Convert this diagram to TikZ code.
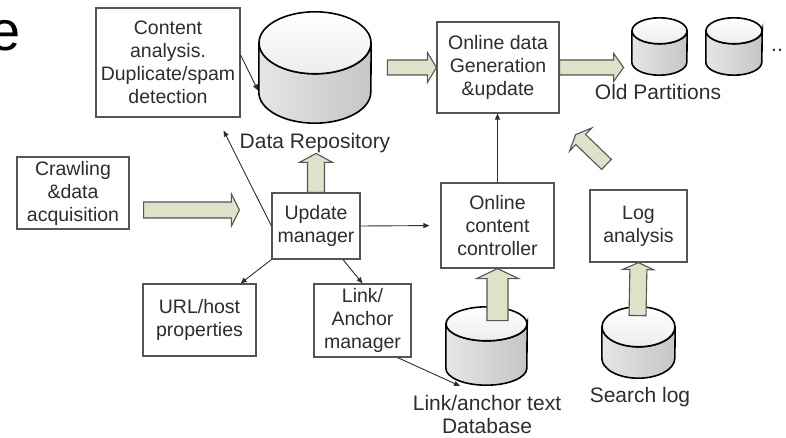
\documentclass[tikz,border=0pt]{standalone}
\usepackage{fontspec}
\setmainfont{Liberation Sans}
\usetikzlibrary{calc,arrows.meta}

\definecolor{fatfill}{RGB}{221,226,201}
\definecolor{edgegray}{RGB}{85,85,85}
\definecolor{inkgray}{RGB}{45,45,45}

% block arrow between two points: start, end, half shaft, half head, head length
\newcommand{\fatarrow}[5]{%
  \draw[fat] let \p1=(#1), \p2=(#2), \n1={atan2(\y2-\y1,\x2-\x1)}, \n2={veclen(\x2-\x1,\y2-\y1)} in
    [shift={(\p1)}, rotate=\n1]
    (0pt,-#3pt) -- (\n2-#5pt,-#3pt) -- (\n2-#5pt,-#4pt) -- (\n2,0pt)
    -- (\n2-#5pt,#4pt) -- (\n2-#5pt,#3pt) -- (0pt,#3pt) -- cycle;}

% database drum: name, centre, width, height, y radius of the lid
\newcommand{\dbcyl}[5]{%
  \node[inner sep=0pt, minimum width=#3pt, minimum height=#4pt] (#1) at (#2) {};
  \draw[dbline, left color=gray!20, right color=gray!45]
    ($(#1.north west)+(0,-#5)$) -- ($(#1.south west)+(0,#5)$)
    arc[start angle=180, end angle=360, x radius=#3/2, y radius=#5]
    -- ($(#1.north east)+(0,-#5)$)
    arc[start angle=0, end angle=-180, x radius=#3/2, y radius=#5] -- cycle;
  \draw[dbline, top color=white, bottom color=gray!14]
    ($(#1.north)+(0,-#5)$) ellipse[x radius=#3/2, y radius=#5];}

\begin{document}
\begin{tikzpicture}[x=1pt, y=1pt, >={Triangle[length=6pt,width=5pt]},
  every node/.style={text=inkgray},
  box/.style={draw=edgegray, line width=1.2pt, fill=white, align=center, inner sep=0pt,
    font=\fontsize{19.5}{23}\selectfont},
  dbline/.style={draw=black, line width=1.6pt},
  lbl/.style={inner sep=0pt, align=center, font=\fontsize{21}{23}\selectfont},
  conn/.style={draw=inkgray, line width=0.9pt, ->},
  fat/.style={draw=edgegray, line width=1.1pt, fill=fatfill, line join=miter}]
  \useasboundingbox (0,0) rectangle (786,-438);

  % cut-off title letter
  \node[anchor=base west, inner sep=0pt, text=black, font=\fontsize{56}{60}\selectfont] (title) at (-10.5,-50.5) {e};

  % Stores
  \dbcyl{repo}{315,-67.5}{112}{111}{31}
  \dbcyl{old1}{659.5,-46.5}{55}{57}{13}
  \dbcyl{old2}{734,-46.5}{56}{57}{13}
  \dbcyl{linkdb}{486.5,-346}{81}{78}{17}
  \dbcyl{searchdb}{638.5,-342.5}{73}{71}{20}

  \node[lbl] (repolbl) at (315,-143) {Data Repository};
  \node[lbl] (oldlbl) at (658,-92) {Old Partitions};
  \node[lbl, anchor=base west] (dots) at (771,-52) {..};
  \node[lbl] (linklbl) at (487,-414.5) {Link/anchor text\\Database};
  \node[lbl] (searchlbl) at (640,-397) {Search log};

  % Boxes
  \node[box, minimum width=144pt, minimum height=109pt] (content) at (168,-62.5) {Content\\analysis.\\Duplicate/spam\\detection};
  \node[box, minimum width=112pt, minimum height=72pt] (crawl) at (73,-193) {Crawling\\\&data\\acquisition};
  \node[box, minimum width=88pt, minimum height=66pt] (update) at (316,-226) {Update\\manager};
  \node[box, minimum width=122pt, minimum height=91pt] (gen) at (498,-67.5) {Online data\\Generation\\\&update};
  \node[box, minimum width=113pt, minimum height=85pt] (ctrl) at (497.5,-225.5) {Online\\content\\controller};
  \node[box, minimum width=97pt, minimum height=72pt] (log) at (638.5,-226) {Log\\analysis};
  \node[box, minimum width=113pt, minimum height=72pt] (url) at (199.5,-320) {URL/host\\properties};
  \node[box, minimum width=97pt, minimum height=73pt] (linkmgr) at (362.5,-320.5) {Link/\\Anchor\\manager};

  % Block arrows
  \fatarrow{$(crawl.east)+(14,-17)$}{$(update.west)+(-32,16)$}{8}{16}{8}
  \fatarrow{update.north}{$(update.north)+(0,39)$}{8.5}{16.5}{9}
  \fatarrow{$(gen.west)+(-49,0)$}{gen.west}{7.5}{15}{9}
  \fatarrow{gen.east}{$(gen.east)+(64,0)$}{7.5}{14}{10}
  \fatarrow{$(ctrl.south)+(0,-52)$}{ctrl.south}{10.5}{21}{10}
  \fatarrow{$(log.south)+(-1,-53)$}{log.south}{8.5}{15.5}{7}
  \fatarrow{$(log.north)+(-32,25)$}{$(gen.south east)+(16,-21)$}{7}{16}{7}

  % Connectors
  \coordinate (contentin) at ($(content.south east)+(-17,-13)$);
  \draw[conn] ($(content.east)+(0,7.5)$) -- ($(repo.center)+(-57,-23)$);
  \draw[conn] (update.west) -- (contentin);
  \draw[conn, shorten >=11pt] (update.east) -- (ctrl.west);
  \draw[conn] (ctrl.north) -- (ctrl.north |- gen.south);
  \draw[conn] (update.south west) -- ($(url.north east)+(-16,0)$);
  \draw[conn] ($(update.south)+(27,0)$) -- (linkmgr.north);
  \draw[conn] ($(linkmgr.south east)+(-14,0)$) -- ($(linkdb.center)+(-26.5,-40)$);
\end{tikzpicture}
\end{document}
